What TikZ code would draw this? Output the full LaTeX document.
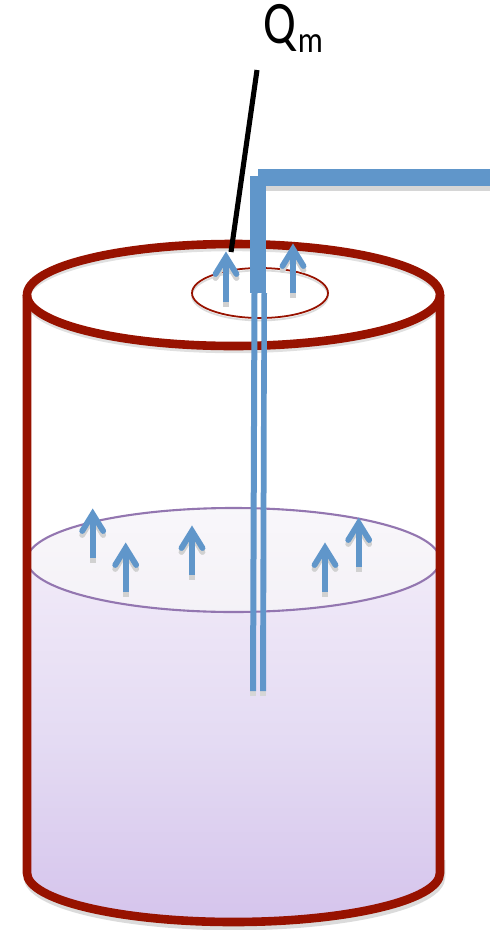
\documentclass[tikz,border=0pt]{standalone}
\usepackage{fontspec}
\setmainfont{Carlito}
\definecolor{wallred}{HTML}{971200}
\definecolor{tubeblue}{HTML}{6096CA}
\definecolor{liquidline}{HTML}{9376B0}
\definecolor{liquidtop}{HTML}{F1EAF8}
\definecolor{liquidmid}{HTML}{E4DBF3}
\definecolor{liquidlow}{HTML}{D5C4EC}
\tikzset{
    wall/.style={draw=wallred,line width=4.9pt},
    castshadow/.style={draw=black!14,line width=4.9pt},
    tube/.style={fill=tubeblue,draw=none},
    tubeshadow/.style={fill=black!16,draw=none},
    riser/.style={draw=tubeblue,line width=3.3pt},
    risershadow/.style={draw=black!18,line width=3.3pt},
    leader/.style={draw=black,line width=2.9pt},
}
\begin{document}
\begin{tikzpicture}[x=0.02cm,y=-0.02cm]
    \useasboundingbox (0,0) rectangle (494,930);
    % shadows of the vessel
    \draw[castshadow] (28,877) arc[start angle=180,end angle=0,x radius=206.5,y radius=49] -- (441,860);
    \draw[black!12,line width=2.5pt] (233.5,300) ellipse[x radius=206.5,y radius=51];
    % liquid
    \shade[top color=liquidtop,bottom color=liquidlow,middle color=liquidmid]
        (27,560) -- (27,873) arc[start angle=180,end angle=0,x radius=206.5,y radius=49] -- (440,560)
        arc[start angle=0,end angle=180,x radius=206.5,y radius=52] -- cycle;
    \shade[top color=liquidline!6,bottom color=liquidline!10,draw=liquidline,line width=1.2pt]
        (233.5,560) ellipse[x radius=206.5,y radius=52];
    % vessel
    \draw[wall] (27,295) -- (27,873) arc[start angle=180,end angle=0,x radius=206.5,y radius=49] -- (440,295);
    \draw[wall] (233.5,295) ellipse[x radius=206.5,y radius=51];
    % opening
    \draw[black!14,line width=1pt] (260,295.5) ellipse[x radius=68,y radius=25];
    \draw[wallred,line width=1pt] (260,293) ellipse[x radius=68,y radius=25];
    % thin tubes
    \fill[tubeshadow] (250,691) rectangle (256,696);
    \fill[tubeshadow] (260,691) rectangle (266,696);
    \fill[tube] (251.5,293) -- (257.5,293) -- (256,691) -- (250,691) -- cycle;
    \fill[tube] (261.5,293) -- (267,293) -- (266,691) -- (260,691) -- cycle;
    % bubbles going up
    \foreach \x/\y/\l in {226/252/50,293/244/49,92.7/509/49,125.7/543/49,192/526/49,325/543/49,358.7/518/49} {
        \draw[risershadow] (\x,\y+\l) -- (\x,\y+\l+5);
        \draw[risershadow,line cap=round] (\x-10.5,\y+26) -- (\x,\y+9) -- (\x+10.5,\y+26);
        \draw[riser] (\x,\y+10) -- (\x,\y+\l);
        \draw[riser,line cap=round] (\x-10.5,\y+22) -- (\x,\y+5) -- (\x+10.5,\y+22);
    }
    % thick tube
    \fill[tubeshadow] (266,186) rectangle (490,191);
    \fill[tube] (250,176) rectangle (266,293);
    \fill[tube] (258,169) rectangle (490,186);
    % label
    \node[inner sep=0pt,anchor=base west] (qm) at (263,43)
        {\scalebox{0.84}[1.04]{\fontsize{33}{34}\selectfont Q}\kern1pt\raisebox{-5.5pt}{\scalebox{0.85}[1]{\fontsize{21}{22}\selectfont m}}};
    \coordinate (leadtop) at (257,70);
    \coordinate (leadend) at (231,252);
    \draw[leader] (leadtop) -- (leadend);
\end{tikzpicture}
\end{document}
